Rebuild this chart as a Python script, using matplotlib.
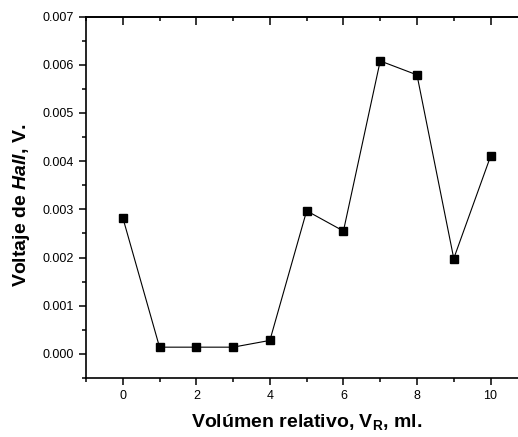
import matplotlib.pyplot as plt
from matplotlib.ticker import MultipleLocator, FormatStrFormatter

plt.rcParams['font.family'] = ['Liberation Sans', 'DejaVu Sans']
plt.rcParams['mathtext.fontset'] = 'custom'
plt.rcParams['mathtext.rm'] = 'Liberation Sans:bold'
plt.rcParams['mathtext.bf'] = 'Liberation Sans:bold'
plt.rcParams['mathtext.it'] = 'Liberation Sans:bold:italic'

# data
vol_rel = [0, 1, 2, 3, 4, 5, 6, 7, 8, 9, 10]
voltaje = [0.00283, 0.00014, 0.00014, 0.00014, 0.00028, 0.00297,
           0.00255, 0.00608, 0.00579, 0.00198, 0.00410]

fig = plt.figure(figsize=(5.18, 4.37), dpi=100)
# right edge of the frame falls outside the image, as in the original
ax = fig.add_axes([0.166, 0.135, 0.852, 0.827])

ax.plot(vol_rel, voltaje, color='black', lw=0.8, marker='s', ms=5.5,
        mfc='black', mec='black')

ax.set_xlim(-1, 11)
ax.set_ylim(-0.0005, 0.007)
ax.xaxis.set_major_locator(MultipleLocator(2))
ax.xaxis.set_minor_locator(MultipleLocator(1))
ax.yaxis.set_major_locator(MultipleLocator(0.001))
ax.yaxis.set_minor_locator(MultipleLocator(0.0005))
ax.yaxis.set_major_formatter(FormatStrFormatter('%.3f'))

for s in ax.spines.values():
    s.set_linewidth(1.2)
ax.tick_params(which='major', direction='out', length=5, width=1.1, labelsize=9)
ax.tick_params(which='minor', direction='out', length=3, width=1.1)

top = ax.secondary_xaxis('top')
top.xaxis.set_major_locator(MultipleLocator(2))
top.xaxis.set_minor_locator(MultipleLocator(1))
top.tick_params(which='major', direction='in', length=6, width=1.1, labeltop=False)
top.tick_params(which='minor', direction='in', length=3, width=1.1)
top.spines['top'].set_linewidth(1.2)

ax.set_xlabel('Volúmen relativo, V$_\\mathrm{R}$, ml.', fontsize=14,
              fontweight='bold', labelpad=7)
ax.set_ylabel('Voltaje de $Hall$, V.', fontsize=14, fontweight='bold')
ax.yaxis.set_label_coords(-0.122, 0.479)

fig.savefig('out.png', dpi=100)
